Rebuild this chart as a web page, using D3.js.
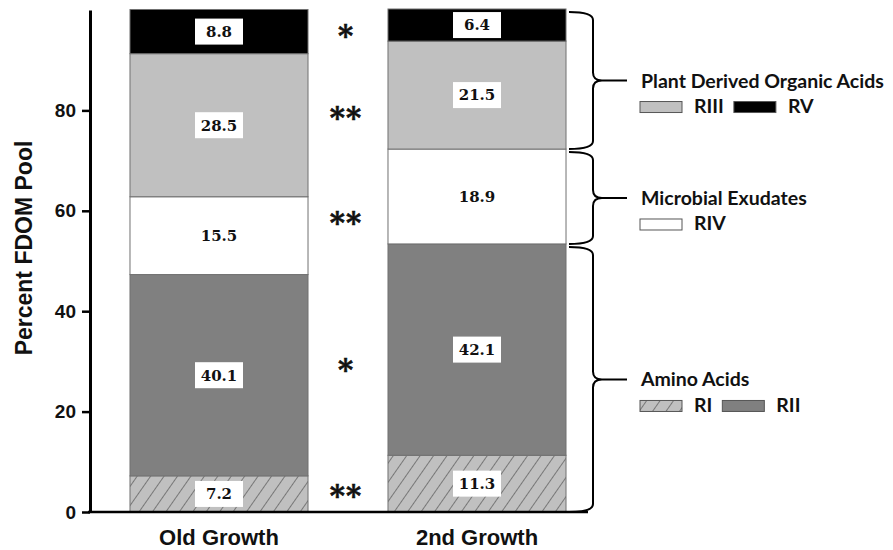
<!DOCTYPE html>
<html>
<head>
<meta charset="utf-8">
<script src="https://cdn.jsdelivr.net/npm/d3@7"></script>
<style>
  html, body { margin: 0; padding: 0; background: #fff; }
  svg { display: block; }
</style>
</head>
<body>
<svg id="chart" width="893" height="550"></svg>
<script>
// ---- data ----
const categories = ["Old Growth", "2nd Growth"];
const seriesKeys = ["RI", "RII", "RIV", "RIII", "RV"];   // bottom to top
const valuesRI   = [7.2, 11.3];
const valuesRII  = [40.1, 42.1];
const valuesRIV  = [15.5, 18.9];
const valuesRIII = [28.5, 21.5];
const valuesRV   = [8.8, 6.4];
const significance = ["**", "*", "**", "**", "*"];        // per series, same order as seriesKeys
const yTicks = [0, 20, 40, 60, 80];
const yTitle = "Percent FDOM Pool";
const groupTitles  = ["Plant Derived Organic Acids", "Microbial Exudates", "Amino Acids"];
const groupMembers = [["RIII", "RV"], ["RIV"], ["RI", "RII"]];

// rows for d3.stack
const seriesValues = { RI: valuesRI, RII: valuesRII, RIV: valuesRIV, RIII: valuesRIII, RV: valuesRV };
const rows = categories.map((c, i) => {
  const r = { category: c };
  seriesKeys.forEach(k => r[k] = seriesValues[k][i]);
  return r;
});

const svg = d3.select("#chart");

const x = d3.scaleBand().domain(categories).range([90, 606])
  .paddingInner(0.31).paddingOuter(0.155);
const y = d3.scaleLinear().domain([0, 100]).range([512, 10]);

// fills
const defs = svg.append("defs");
const hatch = defs.append("pattern")
  .attr("id", "hatch").attr("patternUnits", "userSpaceOnUse")
  .attr("width", 11).attr("height", 11)
  .attr("patternTransform", "rotate(35)");
hatch.append("rect").attr("width", 11).attr("height", 11).attr("fill", "#c0c0c0");
hatch.append("line").attr("x1", 0).attr("y1", 0).attr("x2", 0).attr("y2", 11)
  .attr("stroke", "#3a3a3a").attr("stroke-width", 1.1);

const fillOf = { RI: "url(#hatch)", RII: "#808080", RIV: "#ffffff", RIII: "#c0c0c0", RV: "#000000" };

const stacked = d3.stack().keys(seriesKeys)(rows);

// bars
const layer = svg.append("g").selectAll("g").data(stacked).join("g")
  .attr("fill", d => fillOf[d.key]);
layer.selectAll("rect").data(d => d).join("rect")
  .attr("x", d => x(d.data.category))
  .attr("width", x.bandwidth())
  .attr("y", d => y(d[1]))
  .attr("height", d => y(d[0]) - y(d[1]))
  .attr("stroke", "#707070").attr("stroke-width", 1);

// value labels in white boxes
const labelFont = "'DejaVu Serif', serif";
const lbl = svg.append("g").selectAll("g")
  .data(stacked.flatMap(s => s.map(d => ({ key: s.key, d }))))
  .join("g")
  .attr("transform", o => `translate(${x(o.d.data.category) + x.bandwidth() / 2},${y((o.d[0] + o.d[1]) / 2)})`);
lbl.append("rect").attr("x", -24).attr("y", -13).attr("width", 48).attr("height", 26).attr("fill", "#fff");
lbl.append("text")
  .attr("text-anchor", "middle").attr("dy", "0.36em")
  .attr("font-family", labelFont).attr("font-weight", "bold").attr("font-size", 15)
  .attr("fill", "#111")
  .text(o => seriesValues[o.key][categories.indexOf(o.d.data.category)].toFixed(1));

// significance markers between the bars
const midX = (x(categories[0]) + x.bandwidth() + x(categories[1])) / 2;
svg.append("g").selectAll("text").data(stacked).join("text")
  .attr("x", midX - 2)
  .attr("y", s => y(d3.mean(s, d => (d[0] + d[1]) / 2)))
  .attr("dy", "0.6em")
  .attr("text-anchor", "middle")
  .attr("font-family", "'DejaVu Serif', serif").attr("font-weight", "bold").attr("font-size", 29)
  .attr("fill", "#111").attr("stroke", "#111").attr("stroke-width", 0.6)
  .attr("letter-spacing", 1)
  .text((s, i) => significance[i]);

// y axis
const yAxis = svg.append("g").attr("transform", "translate(90,0)")
  .call(d3.axisLeft(y).tickValues(yTicks).tickSize(8).tickSizeOuter(0).tickPadding(6));
yAxis.select(".domain").attr("stroke", "#000").attr("stroke-width", 3);
yAxis.selectAll(".tick line").attr("stroke", "#000").attr("stroke-width", 2.5);
yAxis.selectAll(".tick text")
  .attr("font-family", "'Liberation Sans', Arial, sans-serif")
  .attr("font-weight", "bold").attr("font-size", 19).attr("fill", "#111");

// baseline
svg.append("line").attr("x1", 88).attr("x2", 588).attr("y1", y(0)).attr("y2", y(0))
  .attr("stroke", "#000").attr("stroke-width", 2.5);

// category labels
svg.append("g").selectAll("text").data(categories).join("text")
  .attr("x", c => x(c) + x.bandwidth() / 2)
  .attr("y", 545)
  .attr("text-anchor", "middle")
  .attr("font-family", "'Liberation Sans', Arial, sans-serif")
  .attr("font-weight", "bold").attr("font-size", 22).attr("fill", "#111")
  .text(c => c);

// y title
svg.append("text")
  .attr("transform", `translate(32,${248}) rotate(-90)`)
  .attr("text-anchor", "middle")
  .attr("font-family", "'Liberation Sans', Arial, sans-serif")
  .attr("font-weight", "bold").attr("font-size", 23).attr("fill", "#111")
  .text(yTitle);

// braces grouping the 2nd-bar segments, with legend entries
const lastCat = categories[categories.length - 1];
const lastStack = {};
stacked.forEach(s => { lastStack[s.key] = s[categories.indexOf(lastCat)]; });
const bx0 = x(lastCat) + x.bandwidth() + 3, bx1 = 593, bx2 = 602, bx3 = 627, r = 8;

function bracePath(yTop, yBot) {
  const ym = (yTop + yBot) / 2;
  return `M${bx0},${yTop} Q${bx1},${yTop} ${bx1},${yTop + r}` +
         ` L${bx1},${ym - r} Q${bx1},${ym} ${bx2},${ym}` +
         ` Q${bx1},${ym} ${bx1},${ym + r}` +
         ` L${bx1},${yBot - r} Q${bx1},${yBot} ${bx0},${yBot}` +
         ` M${bx2},${ym} L${bx3},${ym}`;
}

const legendFont = "Lato, 'Open Sans', sans-serif";
groupTitles.forEach((title, gi) => {
  const members = groupMembers[gi];
  const top = d3.max(members, k => lastStack[k][1]);
  const bot = d3.min(members, k => lastStack[k][0]);
  const yTop = y(top) + 3, yBot = y(bot);
  const ym = (yTop + yBot) / 2;
  svg.append("path").attr("d", bracePath(yTop, yBot))
    .attr("fill", "none").attr("stroke", "#000").attr("stroke-width", 2);

  svg.append("text").attr("x", 641).attr("y", ym + 7)
    .attr("font-family", legendFont).attr("font-weight", "bold").attr("font-size", 19.5)
    .attr("fill", "#111").text(title);

  let cx = 640;
  members.slice().sort((a, b) => seriesKeys.indexOf(a) - seriesKeys.indexOf(b)).forEach(k => {
    svg.append("rect").attr("x", cx).attr("y", ym + 21).attr("width", 42).attr("height", 11)
      .attr("fill", fillOf[k]).attr("stroke", "#555").attr("stroke-width", 1);
    const t = svg.append("text").attr("x", cx + 54).attr("y", ym + 32.5)
      .attr("font-family", legendFont).attr("font-weight", "bold").attr("font-size", 19.5)
      .attr("fill", "#111").text(k);
    cx += 54 + t.node().getComputedTextLength() + 10;
  });
});
</script>
</body>
</html>
